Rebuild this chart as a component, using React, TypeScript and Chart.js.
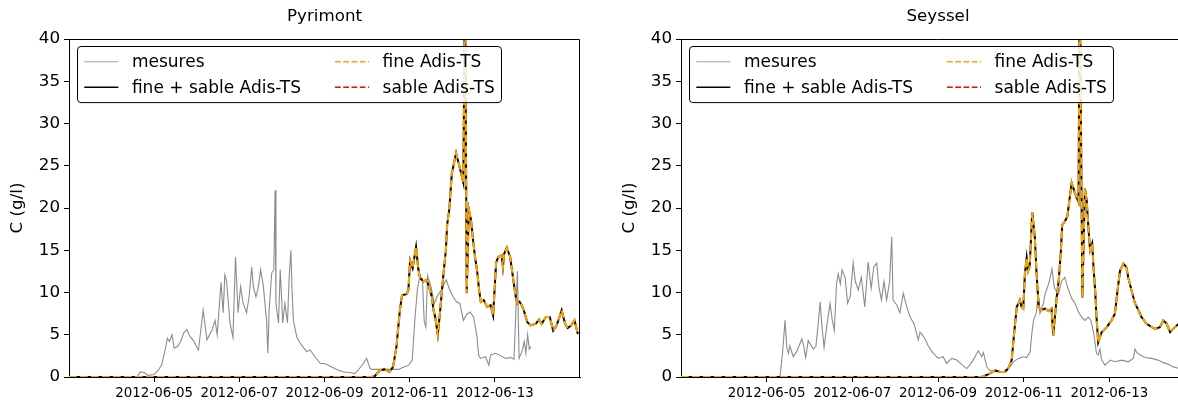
import { useEffect, useRef } from 'react';
import { Chart, registerables } from 'chart.js';

Chart.register(...registerables);
Chart.defaults.font.family = "'DejaVu Sans', sans-serif";

// ---------- axis / tick data ----------
const X_MIN = 3; // day of June 2012
const X_MAX = 15;
const X_TICKS = [5, 7, 9, 11, 13];
const X_TICK_LABELS = ['2012-06-05', '2012-06-07', '2012-06-09', '2012-06-11', '2012-06-13'];
const Y_MIN = 0;
const Y_MAX = 40;
const Y_STEP = 5;
const Y_TITLE = 'C (g/l)';
const SERIES_LABELS = ['mesures', 'fine + sable Adis-TS', 'fine Adis-TS', 'sable Adis-TS'];

// ---------- Pyrimont ----------
const PYR_MES_T = [3.0, 4.6, 4.67, 4.78, 4.85, 5.0, 5.1, 5.18, 5.22, 5.27, 5.31, 5.36, 5.42, 5.47, 5.55, 5.63, 5.7, 5.77, 5.84, 5.92, 6.04, 6.15, 6.24, 6.36, 6.43, 6.48, 6.57, 6.62, 6.66, 6.7, 6.78, 6.85, 6.91, 6.97, 7.03, 7.09, 7.17, 7.23, 7.29, 7.33, 7.39, 7.45, 7.5, 7.56, 7.64, 7.67, 7.7, 7.76, 7.81, 7.84, 7.86, 7.92, 7.96, 8.02, 8.07, 8.13, 8.17, 8.21, 8.24, 8.27, 8.35, 8.43, 8.5, 8.58, 8.66, 8.78, 8.9, 9.0, 9.16, 9.32, 9.47, 9.63, 9.71, 9.79, 9.91, 9.99, 10.07, 10.11, 10.74, 10.82, 10.98, 11.06, 11.12, 11.18, 11.22, 11.3, 11.34, 11.38, 11.42, 11.5, 11.58, 11.64, 11.74, 11.86, 11.94, 12.02, 12.1, 12.18, 12.26, 12.34, 12.42, 12.5, 12.58, 12.62, 12.66, 12.78, 12.86, 12.9, 13.02, 13.14, 13.26, 13.38, 13.45, 13.53, 13.57, 13.65, 13.69, 13.73, 13.77, 13.81, 13.85];
const PYR_MES_C = [0, 0, 0.6, 0.5, 0.2, 0.3, 0.8, 1.5, 2.4, 3.5, 4.6, 4.2, 5.0, 3.4, 3.6, 4.3, 5.3, 5.6, 4.8, 4.3, 3.2, 7.9, 4.4, 5.6, 6.7, 5.0, 11.2, 7.6, 12.1, 11.4, 6.4, 4.7, 14.2, 7.6, 10.7, 8.7, 7.6, 9.5, 13.0, 10.7, 9.5, 10.7, 12.7, 10.9, 6.7, 2.8, 7.9, 12.3, 12.7, 22.1, 8.7, 6.4, 12.7, 6.4, 8.7, 6.4, 11.8, 15.0, 9.9, 6.7, 4.7, 4.0, 3.5, 3.0, 3.2, 2.4, 1.6, 1.6, 1.2, 0.8, 0.6, 0.5, 0.4, 0.8, 1.6, 2.2, 1.0, 0.9, 0.9, 1.1, 1.4, 2.0, 6.7, 10.3, 11.5, 11.6, 6.7, 5.9, 12.0, 10.7, 8.7, 9.5, 10.3, 11.5, 10.3, 9.5, 8.9, 8.7, 6.7, 7.4, 7.7, 7.1, 4.8, 2.6, 2.2, 2.4, 1.4, 2.6, 2.8, 2.5, 2.2, 2.3, 2.1, 12.5, 2.2, 3.2, 4.2, 2.8, 5.0, 3.3, 3.6];
const PYR_MOD_T = [3.0, 10.1, 10.18, 10.3, 10.41, 10.53, 10.61, 10.69, 10.77, 10.82, 10.93, 10.97, 11.01, 11.07, 11.15, 11.2, 11.24, 11.32, 11.4, 11.46, 11.52, 11.56, 11.6, 11.66, 11.71, 11.79, 11.85, 11.88, 11.93, 11.99, 12.09, 12.17, 12.26, 12.3, 12.34, 12.39, 12.44, 12.48, 12.53, 12.59, 12.63, 12.67, 12.74, 12.82, 12.9, 12.96, 13.03, 13.08, 13.16, 13.19, 13.22, 13.28, 13.36, 13.42, 13.49, 13.53, 13.58, 13.63, 13.68, 13.76, 13.84, 13.96, 14.04, 14.1, 14.2, 14.29, 14.37, 14.45, 14.57, 14.65, 14.71, 14.79, 14.87, 14.95];
const PYR_FINE_SABLE_C = [0, 0, 0.1, 0.8, 0.9, 0.6, 1.2, 3.6, 7.9, 9.7, 9.8, 10.3, 13.8, 12.9, 15.4, 12.9, 11.8, 11.3, 11.5, 10.6, 9.5, 7.9, 7.1, 5.0, 7.5, 12.0, 15.0, 18.0, 19.8, 24.1, 26.5, 24.9, 23.0, 48.0, 9.9, 19.8, 18.6, 16.6, 14.4, 12.3, 10.3, 8.9, 9.1, 8.3, 8.5, 7.3, 13.5, 14.2, 14.4, 13.0, 14.6, 15.3, 14.2, 12.0, 9.5, 8.7, 8.9, 8.5, 7.9, 6.5, 6.1, 6.3, 6.8, 6.3, 7.1, 7.1, 5.5, 6.1, 7.9, 6.3, 5.8, 6.1, 6.7, 5.1];
const PYR_FINE_C = [0, 0, 0.1, 0.8, 0.9, 0.6, 1.2, 3.6, 7.9, 9.7, 9.8, 10.3, 13.8, 12.9, 15.4, 12.9, 11.8, 11.3, 11.5, 10.6, 9.5, 7.9, 7.1, 5.0, 7.5, 12.0, 15.0, 18.0, 19.8, 24.1, 26.5, 24.9, 23.0, 48.0, 9.9, 19.8, 18.6, 16.6, 14.4, 12.3, 10.3, 8.9, 9.1, 8.3, 8.5, 7.3, 13.5, 14.2, 14.4, 13.0, 14.6, 15.3, 14.2, 12.0, 9.5, 8.7, 8.9, 8.5, 7.9, 6.5, 6.1, 6.3, 6.8, 6.3, 7.1, 7.1, 5.5, 6.1, 7.9, 6.3, 5.8, 6.1, 6.7, 5.1];
const PYR_SABLE_T = [3.0, 10.1];
const PYR_SABLE_C = [0, 0];

// ---------- Seyssel ----------
const SEY_MES_T = [3.0, 5.31, 5.37, 5.43, 5.47, 5.51, 5.54, 5.62, 5.7, 5.82, 5.86, 5.91, 5.97, 6.09, 6.15, 6.21, 6.25, 6.29, 6.34, 6.4, 6.48, 6.53, 6.58, 6.63, 6.67, 6.72, 6.76, 6.83, 6.89, 6.95, 7.02, 7.07, 7.14, 7.21, 7.29, 7.37, 7.44, 7.5, 7.57, 7.62, 7.68, 7.74, 7.8, 7.87, 7.92, 7.95, 8.04, 8.11, 8.19, 8.27, 8.35, 8.44, 8.54, 8.58, 8.62, 8.7, 8.77, 8.89, 9.01, 9.12, 9.2, 9.32, 9.44, 9.55, 9.67, 9.74, 9.82, 9.94, 10.02, 10.06, 10.14, 10.21, 10.29, 10.41, 10.53, 10.6, 10.68, 10.76, 10.88, 10.99, 11.07, 11.15, 11.19, 11.23, 11.3, 11.34, 11.38, 11.46, 11.5, 11.58, 11.62, 11.66, 11.72, 11.81, 11.89, 11.96, 12.04, 12.12, 12.2, 12.28, 12.35, 12.43, 12.51, 12.57, 12.63, 12.67, 12.7, 12.74, 12.78, 12.82, 12.9, 13.02, 13.13, 13.29, 13.44, 13.56, 13.6, 13.64, 13.72, 13.83, 13.99, 14.14, 14.26, 14.38, 14.49, 14.57, 14.62];
const SEY_MES_C = [0, 0, 2.8, 6.7, 3.5, 2.8, 3.7, 2.4, 3.0, 4.5, 3.8, 2.3, 4.3, 3.3, 3.6, 6.7, 8.9, 6.0, 3.5, 5.9, 8.7, 6.8, 5.5, 11.0, 12.2, 11.0, 12.7, 11.8, 8.7, 9.5, 13.5, 11.3, 10.3, 11.8, 8.3, 13.6, 10.5, 13.0, 13.5, 10.7, 9.1, 11.3, 9.1, 11.3, 16.6, 9.1, 8.5, 7.6, 9.9, 8.3, 7.1, 6.3, 4.4, 5.3, 5.1, 4.5, 3.7, 2.8, 2.2, 2.4, 1.6, 2.2, 2.0, 1.5, 1.0, 1.4, 2.0, 3.1, 2.4, 2.9, 1.2, 0.8, 0.6, 0.7, 0.6, 0.9, 1.2, 1.8, 2.2, 2.4, 2.3, 3.0, 5.1, 6.7, 7.7, 10.2, 7.5, 8.7, 9.8, 11.0, 11.8, 12.8, 10.5, 9.8, 11.4, 11.8, 10.4, 9.3, 8.7, 7.7, 7.1, 6.7, 7.1, 6.7, 5.3, 3.9, 2.8, 2.6, 3.3, 2.0, 1.4, 2.0, 1.8, 2.0, 1.8, 2.2, 3.3, 2.9, 2.6, 2.3, 2.2, 2.0, 1.7, 1.5, 1.2, 1.1, 1.0];
const SEY_MOD_T = [3.0, 10.02, 10.21, 10.33, 10.45, 10.56, 10.64, 10.72, 10.78, 10.84, 10.91, 10.95, 10.99, 11.03, 11.07, 11.1, 11.14, 11.2, 11.26, 11.3, 11.35, 11.4, 11.5, 11.58, 11.65, 11.69, 11.77, 11.82, 11.87, 11.9, 11.96, 12.02, 12.12, 12.2, 12.28, 12.31, 12.37, 12.43, 12.47, 12.51, 12.55, 12.6, 12.63, 12.67, 12.7, 12.74, 12.82, 12.94, 13.05, 13.13, 13.19, 13.25, 13.33, 13.4, 13.44, 13.52, 13.6, 13.68, 13.75, 13.87, 13.99, 14.07, 14.18, 14.26, 14.34, 14.42, 14.49, 14.62];
const SEY_FINE_SABLE_C = [0, 0, 0.4, 0.8, 0.6, 0.6, 1.0, 2.0, 5.3, 8.3, 9.1, 8.3, 8.1, 12.3, 14.1, 12.5, 13.0, 19.5, 16.6, 12.3, 8.3, 7.9, 8.1, 7.8, 8.1, 4.9, 9.4, 11.5, 15.0, 18.0, 18.4, 19.0, 23.0, 21.7, 20.7, 48.0, 9.4, 22.3, 21.0, 17.8, 15.0, 15.8, 13.0, 10.2, 7.1, 4.1, 5.3, 5.9, 6.7, 7.5, 10.2, 12.6, 13.4, 13.0, 11.8, 10.2, 8.7, 7.9, 7.1, 6.3, 5.9, 5.7, 5.9, 6.7, 6.3, 5.3, 5.7, 6.3];
const SEY_FINE_C = [0, 0, 0.4, 0.8, 0.6, 0.6, 1.0, 2.0, 5.3, 8.3, 9.1, 8.3, 8.1, 12.3, 14.1, 12.5, 13.0, 19.5, 16.6, 12.3, 8.3, 7.9, 8.1, 7.8, 8.1, 4.9, 9.4, 11.5, 15.0, 18.0, 18.4, 19.0, 23.0, 21.7, 20.7, 48.0, 9.4, 22.3, 21.0, 17.8, 15.0, 15.8, 13.0, 10.2, 7.1, 4.1, 5.3, 5.9, 6.7, 7.5, 10.2, 12.6, 13.4, 13.0, 11.8, 10.2, 8.7, 7.9, 7.1, 6.3, 5.9, 5.7, 5.9, 6.7, 6.3, 5.3, 5.7, 6.3];
const SEY_SABLE_T = [3.0, 10.02];
const SEY_SABLE_C = [0, 0];

// ---------- styles ----------
const GRAY = 'rgba(120,120,120,0.85)';
const ORANGE = '#FFA500';
const RED = '#FF0000';
const DASH = [7.7, 3.3];
const FS = 16.7;
const LFS = 17;
const XFS = 13.4;

function pts(t: number[], c: number[]) {
  return t.map((x, i) => ({ x, y: c[i] }));
}

const framePlugin = {
  id: 'frameAndLegend',
  afterDatasetsDraw(chart: any) {
    const { ctx, chartArea: ca } = chart;
    ctx.save();
    // top & right spines
    ctx.strokeStyle = '#000';
    ctx.lineWidth = 1;
    ctx.beginPath();
    const top = Math.round(ca.top) + 0.5;
    const right = Math.round(ca.right) - 0.5;
    ctx.moveTo(ca.left, top);
    ctx.lineTo(right, top);
    ctx.lineTo(right, ca.bottom);
    ctx.stroke();

    // axes title, centred on the plot area
    ctx.font = `${FS}px 'DejaVu Sans', sans-serif`;
    ctx.fillStyle = '#000';
    ctx.textAlign = 'center';
    ctx.textBaseline = 'alphabetic';
    ctx.fillText(chart.options.plugins.frameAndLegend.title, (ca.left + ca.right) / 2, 21);

    // legend box (2 columns, column-major)
    const fs = LFS;
    ctx.font = `${fs}px 'DejaVu Sans', sans-serif`;
    const ds = chart.data.datasets;
    const items = ds.map((d: any) => ({
      label: d.label,
      color: d.borderColor,
      dash: d.borderDash || [],
      width: d.borderWidth,
    }));
    const cols = [[items[0], items[1]], [items[2], items[3]]];
    const pad = 0.4 * fs, hl = 2 * fs, htp = 0.8 * fs, cs = 2 * fs, lsp = 0.5 * fs, th = 1.0 * fs;
    const colW = cols.map((c) => hl + htp + Math.max(...c.map((it: any) => ctx.measureText(it.label).width)));
    const w = pad * 2 + colW[0] + cs + colW[1];
    const h = pad * 2 + th * 2 + lsp;
    const x0 = Math.round(ca.left + 0.45 * fs) + 0.5;
    const y0 = Math.round(ca.top + 0.4 * fs) + 0.5;
    const r = 0.2 * fs;
    ctx.beginPath();
    ctx.moveTo(x0 + r, y0);
    ctx.lineTo(x0 + w - r, y0);
    ctx.quadraticCurveTo(x0 + w, y0, x0 + w, y0 + r);
    ctx.lineTo(x0 + w, y0 + h - r);
    ctx.quadraticCurveTo(x0 + w, y0 + h, x0 + w - r, y0 + h);
    ctx.lineTo(x0 + r, y0 + h);
    ctx.quadraticCurveTo(x0, y0 + h, x0, y0 + h - r);
    ctx.lineTo(x0, y0 + r);
    ctx.quadraticCurveTo(x0, y0, x0 + r, y0);
    ctx.closePath();
    ctx.fillStyle = 'rgba(255,255,255,0.85)';
    ctx.fill();
    ctx.strokeStyle = '#000';
    ctx.lineWidth = 1;
    ctx.stroke();

    ctx.textBaseline = 'middle';
    ctx.textAlign = 'left';
    cols.forEach((c, ci) => {
      const cx = x0 + pad + (ci ? colW[0] + cs : 0);
      c.forEach((it: any, ri: number) => {
        const cy = y0 + pad + th / 2 + ri * (th + lsp);
        ctx.beginPath();
        ctx.setLineDash(it.dash.map((d: number) => d * 0.75));
        ctx.strokeStyle = it.color;
        ctx.lineWidth = it.width * 0.75;
        ctx.moveTo(cx, cy);
        ctx.lineTo(cx + hl, cy);
        ctx.stroke();
        ctx.setLineDash([]);
        ctx.fillStyle = '#000';
        ctx.fillText(it.label, cx + hl + htp, cy + 1);
      });
    });
    ctx.restore();
  },
};

function makeConfig(
  title: string,
  mesT: number[], mesC: number[],
  modT: number[], totC: number[], fineC: number[],
  sabT: number[], sabC: number[],
  padRight: number,
): any {
  const axisGrid = {
    drawOnChartArea: false,
    drawTicks: true,
    tickLength: 5,
    tickColor: '#000',
    tickWidth: 1,
  };
  return {
    type: 'line',
    data: {
      datasets: [
        { label: SERIES_LABELS[0], data: pts(mesT, mesC), borderColor: GRAY, borderWidth: 1.1, order: 3 },
        { label: SERIES_LABELS[1], data: pts(modT, totC), borderColor: '#000', borderWidth: 2, order: 1 },
        { label: SERIES_LABELS[2], data: pts(modT, fineC), borderColor: ORANGE, borderWidth: 2, borderDash: DASH, order: 0 },
        { label: SERIES_LABELS[3], data: pts(sabT, sabC), borderColor: RED, borderWidth: 2, borderDash: DASH, order: 2 },
      ],
    },
    options: {
      responsive: false,
      animation: false,
      devicePixelRatio: 1,
      clip: 0,
      elements: { point: { radius: 0 }, line: { tension: 0, fill: false } },
      layout: { padding: { left: 0, right: padRight, top: 39, bottom: 0 } },
      plugins: {
        legend: { display: false },
        tooltip: { enabled: false },
        title: { display: false },
        frameAndLegend: { title },
      },
      scales: {
        x: {
          type: 'linear',
          min: X_MIN,
          max: X_MAX,
          afterBuildTicks: (s: any) => {
            s.ticks = X_TICKS.map((v) => ({ value: v }));
          },
          afterFit: (s: any) => {
            s.height = 24;
          },
          ticks: {
            autoSkip: false,
            maxRotation: 0,
            color: '#000',
            padding: 3,
            font: { size: XFS },
            callback: (v: number) => {
              const i = X_TICKS.indexOf(v);
              return i >= 0 ? X_TICK_LABELS[i] : '';
            },
          },
          grid: axisGrid,
          border: { display: true, color: '#000', width: 1 },
        },
        y: {
          type: 'linear',
          min: Y_MIN,
          max: Y_MAX,
          afterFit: (s: any) => {
            s.width = 69;
          },
          ticks: { stepSize: Y_STEP, color: '#000', padding: 4, font: { size: FS } },
          grid: axisGrid,
          border: { display: true, color: '#000', width: 1 },
          title: {
            display: true,
            text: Y_TITLE,
            color: '#000',
            font: { size: FS },
            padding: { top: 8, bottom: 0 },
          },
        },
      },
    },
    plugins: [framePlugin],
  };
}

function Panel({ cfg, left, width }: { cfg: () => any; left: number; width: number }) {
  const ref = useRef<HTMLCanvasElement>(null);
  useEffect(() => {
    const chart = new Chart(ref.current as HTMLCanvasElement, cfg());
    return () => chart.destroy();
  }, []);
  return (
    <canvas
      ref={ref}
      width={width}
      height={401}
      style={{ position: 'absolute', left, top: 0, width, height: 401 }}
    />
  );
}

export default function App() {
  return (
    <div
      style={{
        position: 'fixed',
        left: 0,
        top: 0,
        width: 1178,
        height: 401,
        overflow: 'hidden',
        background: '#fff',
      }}
    >
      <Panel
        left={0}
        width={600}
        cfg={() =>
          makeConfig('Pyrimont', PYR_MES_T, PYR_MES_C, PYR_MOD_T, PYR_FINE_SABLE_C, PYR_FINE_C, PYR_SABLE_T, PYR_SABLE_C, 20)
        }
      />
      <Panel
        left={612}
        width={600}
        cfg={() =>
          makeConfig('Seyssel', SEY_MES_T, SEY_MES_C, SEY_MOD_T, SEY_FINE_SABLE_C, SEY_FINE_C, SEY_SABLE_T, SEY_SABLE_C, 17)
        }
      />
    </div>
  );
}
